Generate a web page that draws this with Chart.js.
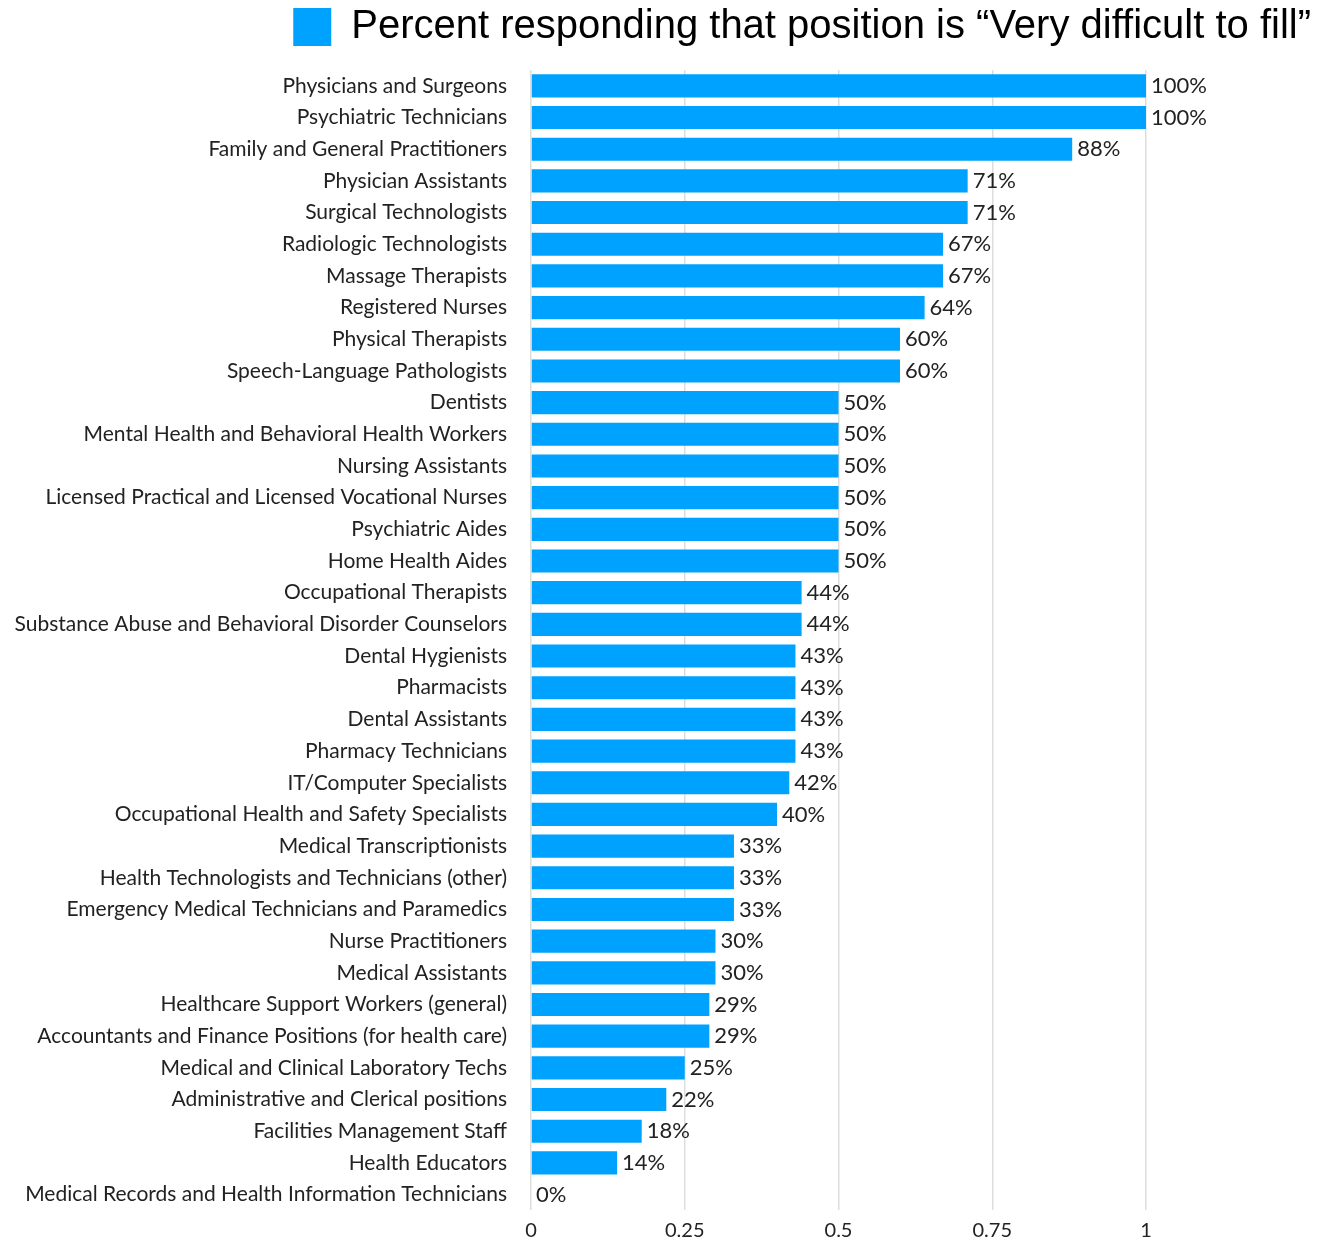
<!DOCTYPE html>
<html>
<head>
<meta charset="utf-8">
<script src="https://cdn.jsdelivr.net/npm/chart.js@4"></script>
<style>
html,body{margin:0;padding:0;background:#fff;}
#wrap{width:1335px;height:1239px;}
</style>
</head>
<body>
<div id="wrap"><canvas id="c" width="1335" height="1239"></canvas></div>
<script>
const categories = [
  "Physicians and Surgeons","Psychiatric Technicians","Family and General Practitioners",
  "Physician Assistants","Surgical Technologists","Radiologic Technologists","Massage Therapists",
  "Registered Nurses","Physical Therapists","Speech-Language Pathologists","Dentists",
  "Mental Health and Behavioral Health Workers","Nursing Assistants",
  "Licensed Practical and Licensed Vocational Nurses","Psychiatric Aides","Home Health Aides",
  "Occupational Therapists","Substance Abuse and Behavioral Disorder Counselors","Dental Hygienists",
  "Pharmacists","Dental Assistants","Pharmacy Technicians","IT/Computer Specialists",
  "Occupational Health and Safety Specialists","Medical Transcriptionists",
  "Health Technologists and Technicians (other)","Emergency Medical Technicians and Paramedics",
  "Nurse Practitioners","Medical Assistants","Healthcare Support Workers (general)",
  "Accountants and Finance Positions (for health care)","Medical and Clinical Laboratory Techs",
  "Administrative and Clerical positions","Facilities Management Staff","Health Educators",
  "Medical Records and Health Information Technicians"
];
const veryDifficult = [
  1.00,1.00,0.88,0.71,0.71,0.67,0.67,0.64,0.60,0.60,0.50,0.50,0.50,0.50,0.50,0.50,
  0.44,0.44,0.43,0.43,0.43,0.43,0.42,0.40,0.33,0.33,0.33,0.30,0.30,0.29,0.29,0.25,
  0.22,0.18,0.14,0.00
];
const seriesLabel = "Percent responding that position is \u201cVery difficult to fill\u201d";
const xTicks = [0, 0.25, 0.5, 0.75, 1];
const xTickLabels = ["0", "0.25", "0.5", "0.75", "1"];

const valueLabels = {
  id: 'valueLabels',
  afterDatasetsDraw(chart) {
    const ctx = chart.ctx;
    const meta = chart.getDatasetMeta(0);
    ctx.save();
    ctx.font = '22px Lato';
    ctx.fillStyle = '#222';
    ctx.textAlign = 'left';
    ctx.textBaseline = 'middle';
    meta.data.forEach((bar, i) => {
      const v = chart.data.datasets[0].data[i];
      ctx.fillText(Math.round(v * 100) + '%', bar.x + 5, bar.y);
    });
    ctx.restore();
  }
};

new Chart(document.getElementById('c'), {
  type: 'bar',
  data: {
    labels: categories,
    datasets: [{
      label: seriesLabel,
      data: veryDifficult,
      backgroundColor: '#00A2FF',
      borderWidth: 0,
      categoryPercentage: 1,
      barPercentage: 0.73
    }]
  },
  options: {
    indexAxis: 'y',
    responsive: false,
    animation: false,
    layout: { padding: { left: 0, right: 17, top: 0, bottom: 0 } },
    plugins: {
      legend: {
        display: true,
        position: 'top',
        align: 'end',
        labels: {
          boxWidth: 38,
          boxHeight: 38,
          padding: 7,
          color: '#000',
          font: { family: "'Liberation Sans', Arial, sans-serif", size: 40 }
        }
      },
      tooltip: { enabled: false }
    },
    scales: {
      x: {
        min: 0,
        max: 1,
        afterBuildTicks(scale) { scale.ticks = xTicks.map(v => ({ value: v })); },
        afterFit(scale) { scale.height = 28; },
        grid: { color: '#dddddd', lineWidth: 1.5, drawTicks: false },
        border: { display: false },
        ticks: {
          color: '#222', font: { family: 'Lato', size: 20 }, padding: 8,
          callback: (v, i) => xTickLabels[i]
        }
      },
      xTop: {
        position: 'top',
        display: true,
        grid: { display: false },
        border: { display: false },
        ticks: { display: false },
        afterFit(scale) { scale.height = 13; }
      },
      y: {
        grid: { display: false },
        border: { display: false },
        afterFit(scale) { scale.width = 531; },
        ticks: { color: '#222', font: { family: 'Lato', size: 21 }, padding: 16, autoSkip: false }
      },
      y2: {
        position: 'right',
        display: true,
        grid: { display: false },
        border: { display: false },
        ticks: { display: false },
        afterFit(scale) { scale.width = 172; }
      }
    }
  },
  plugins: [valueLabels]
});
</script>
</body>
</html>
